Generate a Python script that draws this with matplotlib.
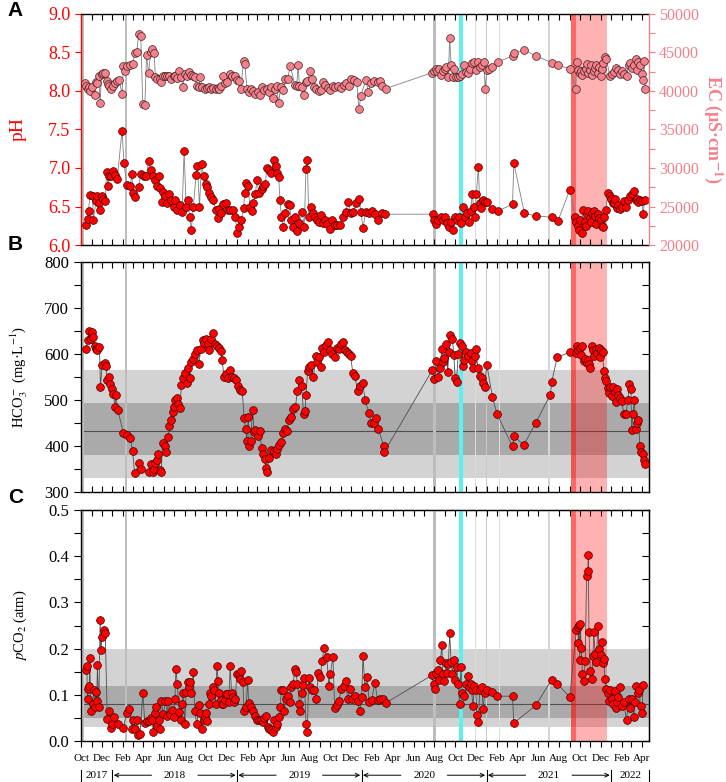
import numpy as np
import pandas as pd
import matplotlib
matplotlib.use("Agg")
import matplotlib.pyplot as plt
from matplotlib.transforms import blended_transform_factory

plt.rcParams['font.family'] = ['Liberation Serif', 'DejaVu Serif']
plt.rcParams['mathtext.fontset'] = 'stix'

# sampling day = days since 2017-10-01
START = pd.Timestamp('2017-10-01')
X_END = 1664

# ---- panel A : pH (red, left axis)
ph_day = [15, 19, 22, 26, 34, 36, 44, 48, 52, 56,
          60, 65, 71, 75, 79, 83, 89, 95, 101, 106,
          120, 126, 134, 144, 149, 153, 159, 169, 175, 185,
          191, 198, 204, 210, 218, 222, 228, 232, 237, 241,
          247, 253, 259, 265, 271, 276, 282, 290, 296, 302,
          308, 312, 318, 323, 329, 337, 341, 347, 353, 359,
          366, 370, 376, 382, 388, 394, 400, 405, 411, 417,
          425, 431, 437, 445, 452, 458, 464, 470, 476, 480,
          484, 489, 495, 501, 505, 511, 515, 521, 529, 534,
          540, 544, 550, 556, 564, 570, 575, 579, 583, 587,
          593, 599, 605, 611, 616, 622, 628, 634, 640, 648,
          654, 659, 663, 667, 673, 679, 685, 691, 697, 702,
          708, 714, 722, 730, 736, 743, 751, 759, 767, 775,
          783, 790, 798, 806, 814, 820, 826, 834, 844, 851,
          861, 869, 881, 890, 1031, 1035, 1041, 1047, 1055, 1060,
          1066, 1072, 1078, 1084, 1090, 1096, 1102, 1107, 1113, 1119,
          1125, 1131, 1137, 1141, 1146, 1150, 1154, 1158, 1164, 1168,
          1172, 1178, 1184, 1189, 1203, 1221, 1264, 1268, 1299, 1332,
          1379, 1397, 1432, 1447, 1451, 1455, 1459, 1463, 1467, 1471,
          1475, 1479, 1483, 1486, 1490, 1494, 1498, 1502, 1506, 1510,
          1514, 1518, 1522, 1526, 1529, 1533, 1537, 1543, 1549, 1553,
          1557, 1561, 1565, 1569, 1572, 1578, 1584, 1590, 1596, 1602,
          1608, 1613, 1619, 1625, 1629, 1633, 1637, 1643, 1647, 1651]
ph = [6.26, 6.34, 6.44, 6.65, 6.64, 6.32, 6.57, 6.63, 6.54, 6.45,
      6.64, 6.60, 6.57, 6.95, 6.77, 6.89, 6.90, 6.96, 6.91, 6.86,
      7.48, 7.06, 6.78, 6.77, 6.92, 6.67, 6.62, 6.75, 6.92, 6.90,
      6.89, 7.09, 6.97, 6.90, 6.84, 6.77, 6.90, 6.74, 6.56, 6.69,
      6.63, 6.55, 6.66, 6.58, 6.49, 6.58, 6.46, 6.52, 6.43, 7.22,
      6.49, 6.58, 6.37, 6.20, 6.49, 6.91, 7.03, 6.50, 7.05, 6.90,
      6.79, 6.75, 6.67, 6.62, 6.58, 6.45, 6.35, 6.47, 6.41, 6.53,
      6.54, 6.45, 6.46, 6.45, 6.36, 6.15, 6.24, 6.32, 6.48, 6.68,
      6.80, 6.76, 6.50, 6.44, 6.55, 6.66, 6.84, 6.68, 6.73, 6.77,
      6.79, 7.00, 6.98, 6.94, 7.10, 7.03, 6.93, 6.88, 6.58, 6.36,
      6.23, 6.41, 6.53, 6.52, 6.32, 6.24, 6.37, 6.18, 6.29, 6.43,
      6.24, 6.99, 7.10, 6.37, 6.50, 6.41, 6.37, 6.32, 6.30, 6.39,
      6.28, 6.32, 6.27, 6.21, 6.32, 6.26, 6.26, 6.26, 6.37, 6.43,
      6.56, 6.41, 6.43, 6.54, 6.60, 6.43, 6.22, 6.43, 6.41, 6.44,
      6.40, 6.32, 6.42, 6.40, 6.40, 6.32, 6.27, 6.32, 6.36, 6.32,
      6.36, 6.29, 6.24, 6.30, 6.20, 6.37, 6.32, 6.36, 6.29, 6.49,
      6.36, 6.41, 6.30, 6.44, 6.66, 6.50, 6.37, 6.66, 7.01, 6.54,
      6.48, 6.58, 6.56, 6.56, 6.47, 6.44, 6.53, 7.06, 6.41, 6.38,
      6.36, 6.31, 6.72, 6.36, 6.30, 6.25, 6.20, 6.33, 6.15, 6.45,
      6.30, 6.25, 6.40, 6.44, 6.35, 6.30, 6.42, 6.44, 6.38, 6.27,
      6.40, 6.35, 6.32, 6.25, 6.24, 6.36, 6.45, 6.68, 6.63, 6.60,
      6.55, 6.54, 6.60, 6.48, 6.52, 6.47, 6.50, 6.57, 6.49, 6.58,
      6.64, 6.66, 6.70, 6.58, 6.60, 6.56, 6.58, 6.57, 6.40, 6.59]

# ---- panel A : EC (pink, right axis)
ec_day = [11, 15, 19, 22, 26, 32, 40, 44, 48, 52,
          56, 60, 65, 71, 75, 79, 83, 89, 95, 101,
          106, 112, 120, 124, 130, 136, 144, 151, 157, 163,
          169, 175, 181, 187, 192, 198, 204, 208, 214, 218,
          224, 230, 235, 241, 247, 253, 259, 265, 271, 276,
          282, 288, 294, 298, 304, 310, 316, 321, 327, 333,
          339, 345, 349, 355, 362, 368, 374, 380, 388, 394,
          400, 405, 411, 417, 423, 429, 437, 443, 450, 456,
          462, 468, 476, 480, 486, 491, 497, 505, 511, 517,
          525, 531, 536, 544, 550, 556, 562, 568, 573, 579,
          585, 591, 599, 605, 613, 626, 632, 636, 640, 646,
          652, 658, 663, 671, 677, 683, 689, 697, 702, 710,
          716, 724, 730, 738, 745, 753, 761, 769, 777, 785,
          792, 800, 808, 814, 820, 834, 842, 849, 857, 869,
          875, 883, 892, 1029, 1033, 1039, 1043, 1049, 1055, 1060,
          1066, 1070, 1076, 1080, 1084, 1090, 1094, 1098, 1103, 1109,
          1115, 1121, 1127, 1133, 1139, 1145, 1150, 1156, 1162, 1168,
          1174, 1180, 1184, 1189, 1195, 1205, 1221, 1264, 1268, 1299,
          1332, 1379, 1397, 1432, 1449, 1453, 1457, 1461, 1465, 1469,
          1473, 1479, 1483, 1486, 1490, 1494, 1498, 1502, 1506, 1510,
          1514, 1518, 1522, 1526, 1529, 1535, 1539, 1549, 1555, 1561,
          1567, 1572, 1578, 1584, 1590, 1598, 1604, 1608, 1613, 1619,
          1625, 1629, 1633, 1637, 1643, 1647, 1649, 1653]
ec = [41000, 40600, 40200, 40500, 40000, 40500, 39500, 41200, 41000, 41900,
      38400, 42200, 42400, 42300, 41300, 40900, 40600, 40200, 40600, 41100,
      41300, 41400, 39600, 43200, 42600, 43200, 43400, 43500, 44900, 45000,
      47400, 47100, 38300, 38200, 44700, 42300, 45000, 45500, 44900, 41800,
      41500, 41600, 41200, 41900, 42000, 42000, 41900, 41600, 42000, 41900,
      41700, 42600, 41800, 40500, 42200, 41900, 42500, 42100, 41900, 41800,
      40600, 40500, 41800, 40500, 40200, 40400, 40500, 40200, 40400, 40200,
      40400, 40300, 40600, 41900, 41100, 41200, 42200, 42000, 41900, 41400,
      41300, 40200, 43900, 43500, 40300, 39900, 40300, 40000, 39600, 39900,
      39500, 40500, 40100, 40300, 39900, 40500, 39100, 40300, 40700, 38500,
      40500, 40100, 41600, 41500, 43300, 40800, 40600, 43400, 40600, 40500,
      39500, 41200, 41300, 42600, 41600, 40500, 40300, 40000, 40100, 41200,
      40800, 40400, 40100, 40600, 40500, 40700, 40400, 40800, 41000, 40600,
      41500, 41400, 41200, 37600, 39400, 41430, 39870, 41080, 41250, 41170,
      41250, 40650, 40300, 42380, 42640, 42900, 42550, 42810, 42030, 42640,
      42900, 43160, 41780, 46840, 43330, 41780, 42900, 41780, 41780, 41950,
      42210, 43420, 42470, 42300, 42900, 43680, 43770, 42730, 43770, 43160,
      43330, 43770, 40300, 42730, 42900, 43160, 43770, 44550, 44890, 45320,
      44550, 43680, 43330, 42900, 40220, 43770, 42730, 42300, 42640, 42120,
      42550, 42900, 43510, 42300, 42730, 43330, 42120, 42550, 42990, 43330,
      42380, 43160, 41950, 42900, 43590, 44370, 44200, 41950, 42210, 42470,
      42990, 42730, 42210, 42550, 42210, 41950, 43330, 43680, 42990, 43420,
      44200, 42730, 43770, 43330, 42210, 41430, 43940, 40220]

# ---- panel B : HCO3- (mg/L)
hco3_day = [15, 19, 24, 28, 32, 36, 40, 44, 48, 54,
            57, 62, 70, 73, 77, 81, 85, 91, 95, 99,
            102, 108, 124, 134, 144, 151, 157, 171, 177, 198,
            204, 210, 214, 218, 222, 226, 230, 235, 239, 245,
            249, 255, 259, 265, 269, 273, 276, 280, 284, 290,
            294, 298, 305, 309, 313, 319, 323, 327, 333, 339,
            345, 351, 357, 361, 366, 372, 376, 382, 386, 392,
            398, 403, 409, 413, 419, 425, 431, 437, 443, 448,
            454, 460, 466, 472, 478, 482, 486, 490, 493, 497,
            503, 507, 511, 517, 523, 529, 534, 538, 542, 546,
            550, 556, 564, 572, 575, 581, 587, 591, 597, 603,
            609, 615, 622, 628, 634, 640, 646, 652, 656, 659,
            664, 669, 675, 681, 687, 691, 697, 702, 706, 712,
            718, 724, 730, 736, 743, 749, 755, 761, 767, 773,
            779, 785, 790, 796, 802, 810, 818, 826, 832, 844,
            849, 859, 865, 871, 887, 889, 1029, 1035, 1041, 1047,
            1051, 1057, 1060, 1064, 1070, 1074, 1078, 1082, 1088, 1092,
            1096, 1100, 1105, 1111, 1115, 1119, 1123, 1129, 1135, 1141,
            1145, 1148, 1154, 1158, 1162, 1168, 1174, 1178, 1182, 1189,
            1205, 1219, 1264, 1268, 1297, 1332, 1375, 1379, 1395, 1432,
            1449, 1453, 1457, 1461, 1465, 1469, 1473, 1477, 1481, 1485,
            1488, 1492, 1496, 1500, 1504, 1508, 1512, 1516, 1520, 1524,
            1528, 1531, 1535, 1539, 1543, 1547, 1551, 1555, 1559, 1563,
            1567, 1570, 1574, 1578, 1584, 1590, 1596, 1602, 1606, 1611,
            1613, 1617, 1621, 1625, 1629, 1633, 1637, 1641, 1645, 1649, 1653]
hco3 = [612, 630, 651, 633, 647, 637, 618, 611, 608, 615,
        528, 577, 580, 575, 543, 550, 534, 524, 514, 485,
        510, 478, 428, 423, 418, 389, 341, 363, 349, 344,
        362, 344, 351, 363, 369, 382, 347, 343, 407, 401,
        388, 420, 443, 456, 473, 485, 501, 504, 492, 483,
        533, 549, 559, 536, 570, 549, 583, 589, 601, 609,
        578, 611, 630, 625, 633, 621, 608, 633, 646, 621,
        617, 614, 607, 588, 551, 556, 549, 565, 551, 547,
        543, 530, 522, 520, 462, 436, 412, 463, 399, 412,
        479, 430, 434, 421, 433, 395, 383, 372, 353, 344,
        375, 391, 389, 383, 393, 402, 409, 428, 436, 433,
        456, 463, 480, 485, 520, 543, 531, 470, 476, 512,
        563, 572, 576, 550, 596, 583, 593, 572, 614, 605,
        620, 627, 608, 601, 593, 614, 611, 622, 627, 608,
        605, 601, 596, 559, 553, 520, 530, 536, 499, 472,
        450, 449, 462, 437, 399, 388, 565, 546, 585, 551,
        569, 611, 583, 592, 621, 562, 605, 641, 633, 598,
        549, 540, 601, 625, 618, 575, 588, 604, 596, 602,
        585, 569, 596, 611, 570, 553, 547, 538, 528, 576,
        507, 469, 399, 422, 402, 450, 512, 540, 593, 604,
        602, 617, 609, 614, 598, 617, 585, 589, 580, 586,
        578, 570, 617, 608, 596, 611, 602, 614, 593, 609,
        605, 563, 549, 541, 527, 515, 528, 509, 528, 517,
        496, 524, 511, 505, 498, 470, 469, 501, 534, 524,
        434, 469, 499, 437, 450, 456, 401, 388, 383, 369, 360]

# ---- panel C : pCO2 (atm)
pco2_day = [15, 17, 19, 21, 24, 26, 28, 34, 38, 40,
            44, 46, 48, 52, 56, 58, 62, 67, 71, 77,
            83, 87, 91, 97, 108, 124, 134, 142, 149, 153,
            159, 163, 167, 173, 181, 187, 192, 198, 204, 208,
            212, 216, 220, 224, 228, 232, 235, 241, 247, 253,
            255, 261, 267, 271, 275, 278, 282, 288, 292, 296,
            300, 304, 308, 312, 316, 319, 323, 329, 333, 339,
            345, 349, 353, 359, 362, 366, 370, 374, 378, 382,
            386, 390, 394, 398, 402, 405, 409, 413, 417, 421,
            425, 429, 433, 437, 441, 445, 448, 452, 456, 462,
            466, 470, 474, 478, 484, 488, 491, 497, 503, 509,
            515, 521, 527, 532, 536, 542, 548, 552, 556, 562,
            566, 570, 573, 579, 583, 587, 591, 595, 601, 605,
            611, 616, 622, 626, 630, 634, 640, 642, 646, 650,
            654, 659, 663, 667, 671, 677, 683, 689, 695, 701,
            706, 712, 720, 726, 730, 738, 743, 749, 755, 763,
            769, 775, 781, 788, 794, 802, 810, 816, 822, 826,
            832, 838, 844, 851, 861, 869, 877, 885, 892, 1027,
            1033, 1037, 1041, 1045, 1049, 1053, 1057, 1060, 1064, 1068,
            1072, 1076, 1080, 1084, 1088, 1092, 1096, 1101, 1105, 1109,
            1113, 1117, 1123, 1129, 1133, 1137, 1141, 1144, 1148, 1152,
            1156, 1160, 1164, 1168, 1174, 1178, 1182, 1189, 1205, 1219,
            1264, 1268, 1332, 1379, 1395, 1432, 1451, 1455, 1457, 1459,
            1461, 1463, 1465, 1469, 1473, 1477, 1481, 1485, 1486, 1488,
            1492, 1496, 1500, 1502, 1506, 1510, 1514, 1518, 1522, 1526,
            1528, 1531, 1535, 1539, 1543, 1547, 1551, 1555, 1559, 1563,
            1567, 1570, 1574, 1578, 1584, 1590, 1598, 1604, 1608, 1613,
            1619, 1623, 1627, 1631, 1635, 1639, 1643, 1647]
pco2 = [0.153, 0.163, 0.090, 0.112, 0.120, 0.180, 0.066, 0.081, 0.110, 0.074,
        0.107, 0.087, 0.165, 0.074, 0.261, 0.197, 0.225, 0.240, 0.233, 0.048,
        0.066, 0.029, 0.037, 0.052, 0.037, 0.029, 0.061, 0.069, 0.025, 0.046,
        0.025, 0.046, 0.014, 0.016, 0.104, 0.039, 0.043, 0.043, 0.049, 0.046,
        0.019, 0.061, 0.074, 0.033, 0.046, 0.025, 0.087, 0.058, 0.087, 0.055,
        0.087, 0.058, 0.068, 0.052, 0.091, 0.156, 0.124, 0.062, 0.045, 0.081,
        0.104, 0.037, 0.107, 0.127, 0.116, 0.127, 0.103, 0.150, 0.064, 0.037,
        0.078, 0.061, 0.026, 0.046, 0.053, 0.061, 0.043, 0.081, 0.104, 0.097,
        0.118, 0.111, 0.081, 0.162, 0.129, 0.104, 0.088, 0.081, 0.081, 0.088,
        0.101, 0.101, 0.084, 0.162, 0.105, 0.095, 0.084, 0.090, 0.144, 0.144,
        0.134, 0.152, 0.127, 0.066, 0.074, 0.132, 0.082, 0.074, 0.064, 0.055,
        0.046, 0.046, 0.046, 0.042, 0.049, 0.055, 0.030, 0.026, 0.023, 0.020,
        0.046, 0.030, 0.037, 0.053, 0.074, 0.110, 0.110, 0.066, 0.090, 0.098,
        0.085, 0.116, 0.124, 0.156, 0.150, 0.124, 0.081, 0.064, 0.105, 0.121,
        0.137, 0.037, 0.020, 0.136, 0.116, 0.111, 0.110, 0.091, 0.147, 0.139,
        0.173, 0.201, 0.182, 0.120, 0.144, 0.182, 0.072, 0.078, 0.087, 0.113,
        0.120, 0.129, 0.090, 0.113, 0.092, 0.098, 0.087, 0.064, 0.095, 0.184,
        0.116, 0.139, 0.084, 0.088, 0.126, 0.088, 0.090, 0.091, 0.082, 0.142,
        0.124, 0.113, 0.147, 0.153, 0.133, 0.176, 0.208, 0.146, 0.130, 0.168,
        0.147, 0.166, 0.233, 0.171, 0.146, 0.176, 0.133, 0.160, 0.123, 0.081,
        0.160, 0.104, 0.098, 0.123, 0.140, 0.117, 0.123, 0.111, 0.075, 0.120,
        0.110, 0.056, 0.042, 0.110, 0.118, 0.069, 0.103, 0.110, 0.107, 0.097,
        0.097, 0.039, 0.077, 0.133, 0.124, 0.095, 0.241, 0.247, 0.212, 0.251,
        0.176, 0.254, 0.201, 0.146, 0.130, 0.173, 0.358, 0.368, 0.402, 0.236,
        0.152, 0.134, 0.185, 0.236, 0.189, 0.172, 0.250, 0.199, 0.186, 0.215,
        0.168, 0.178, 0.134, 0.113, 0.104, 0.087, 0.111, 0.091, 0.081, 0.108,
        0.072, 0.084, 0.095, 0.117, 0.075, 0.084, 0.045, 0.090, 0.072, 0.090,
        0.052, 0.085, 0.120, 0.103, 0.110, 0.075, 0.061, 0.121]

# statistics bands (outer range, inner range, middle line)
hco3_outer = (331, 566)
hco3_inner = (380, 494)
hco3_mid = 432
pco2_outer = (0.03, 0.20)
pco2_inner = (0.049, 0.12)
pco2_mid = 0.081

# event markers (day ranges)
gray_events = [(0, 8, '#bdbdbd'), (128, 134, '#bdbdbd'), (1030, 1039, '#bdbdbd'),
               (1153, 1156, '#dcdcdc'), (1185, 1189, '#c8c8c8'),
               (1223, 1227, '#dcdcdc'), (1369, 1373, '#d6d6d6')]
cyan_event = (1108, 1118)
red_dark = (1436, 1450)
red_light = (1450, 1541)

RED = '#ff0000'
PINK = '#f4808c'


def events(ax):
    for a, b, c in gray_events:
        ax.axvspan(a, b, color=c, lw=0, zorder=1)
    ax.axvspan(*cyan_event, color='#5df0f0', lw=0, zorder=1)
    ax.axvspan(*red_dark, color='red', alpha=0.6, lw=0, zorder=1.5)
    ax.axvspan(*red_light, color='red', alpha=0.3, lw=0, zorder=1.5)


month_dates = pd.date_range('2017-10-01', '2022-04-01', freq='MS')
month_days = [(d - START).days for d in month_dates]
month_labels = [d.strftime('%b') if i % 2 == 0 else '' for i, d in enumerate(month_dates)]


def xsetup(ax):
    ax.set_xlim(0, X_END)
    ax.set_xticks(month_days)
    for s in ax.spines.values():
        s.set_linewidth(1.0)


fig = plt.figure(figsize=(7.26, 7.82), dpi=100)
ax_a = fig.add_axes([0.1116, 0.6867, 0.7824, 0.2954])
ax_b = fig.add_axes([0.1116, 0.3708, 0.7824, 0.2941])
ax_c = fig.add_axes([0.1116, 0.0524, 0.7824, 0.2954])

# ---------------- A
events(ax_a)
xsetup(ax_a)
ax_a.tick_params(axis='x', direction='in', top=True, bottom=True,
                 labelbottom=False, length=4, width=0.8)
ax_a.plot(ph_day, ph, marker='o', ms=5.6, mfc=RED, mec='#400000', mew=0.5,
          color='#808080', lw=0.6, zorder=3)
ax_a.set_ylim(6, 9)
ax_a.set_yticks(np.arange(6, 9.01, 0.5))
ax_a.set_yticklabels(['%.1f' % v for v in np.arange(6, 9.01, 0.5)])
ax_a.tick_params(axis='y', direction='out', colors=RED, labelsize=13,
                 length=4, width=0.8)
ax_a.spines['left'].set_color(RED)
ax_a.spines['right'].set_visible(False)
ax_a.set_ylabel('pH', color=RED, fontsize=14, va='center')
ax_a.yaxis.set_label_coords(-0.111, 0.5)

ax_a2 = ax_a.twinx()
ax_a2.set_xlim(0, X_END)
ax_a2.plot(ec_day, ec, marker='o', ms=5.6, mfc=PINK, mec='#402020', mew=0.5,
           color='#808080', lw=0.6, zorder=3)
ax_a2.set_ylim(20000, 50000)
ax_a2.set_yticks(np.arange(20000, 50001, 5000))
ax_a2.set_yticks(np.arange(22500, 50000, 5000), minor=True)
ax_a2.tick_params(axis='y', which='both', direction='out', colors=PINK,
                  labelsize=11.5, length=4, width=0.8, pad=3)
for side in ['left', 'top', 'bottom']:
    ax_a2.spines[side].set_visible(False)
ax_a2.spines['right'].set_color(PINK)
ax_a2.spines['right'].set_linewidth(1.0)
ax_a2.set_ylabel('EC (µS·cm$^{\\mathbf{-1}}$)', color=PINK, fontsize=13,
                 fontweight='bold', rotation=270, va='center')
ax_a2.yaxis.set_label_coords(1.114, 0.5)

# ---------------- B
ax_b.axhspan(*hco3_outer, color='#d3d3d3', lw=0, zorder=0.5)
ax_b.axhspan(*hco3_inner, color='#aaaaaa', lw=0, zorder=0.6)
ax_b.axhline(hco3_mid, color='#505050', lw=0.8, zorder=0.7)
events(ax_b)
xsetup(ax_b)
ax_b.tick_params(axis='x', direction='in', top=True, bottom=True,
                 labelbottom=False, length=4, width=0.8)
ax_b.plot(hco3_day, hco3, marker='o', ms=5.6, mfc=RED, mec='#400000', mew=0.5,
          color='#505050', lw=0.6, zorder=3)
ax_b.set_ylim(300, 800)
ax_b.set_yticks(np.arange(300, 801, 100))
ax_b.set_yticks(np.arange(350, 800, 100), minor=True)
ax_b.tick_params(axis='y', which='both', direction='out', labelsize=12,
                 length=5, width=0.8)
sec_b = ax_b.secondary_yaxis('right')
sec_b.set_yticks(np.arange(300, 801, 50))
sec_b.tick_params(direction='in', labelright=False, length=5, width=0.8)
ax_b.set_ylabel('HCO$_3^-$ (mg·L$^{-1}$)', fontsize=10.5, va='center')
ax_b.yaxis.set_label_coords(-0.109, 0.5)

# ---------------- C
ax_c.axhspan(*pco2_outer, color='#d3d3d3', lw=0, zorder=0.5)
ax_c.axhspan(*pco2_inner, color='#aaaaaa', lw=0, zorder=0.6)
ax_c.axhline(pco2_mid, color='#505050', lw=0.8, zorder=0.7)
events(ax_c)
xsetup(ax_c)
ax_c.set_xticklabels(month_labels)
ax_c.tick_params(axis='x', direction='out', top=False, bottom=True,
                 labelsize=8, length=4, width=0.8, pad=5)
sec_c = ax_c.secondary_xaxis('top')
sec_c.set_xticks(month_days)
sec_c.tick_params(direction='in', labeltop=False, length=4, width=0.8)
ax_c.plot(pco2_day, pco2, marker='o', ms=5.6, mfc=RED, mec='#400000', mew=0.5,
          color='#505050', lw=0.6, zorder=3)
ax_c.set_ylim(0, 0.5)
ax_c.set_yticks(np.arange(0, 0.51, 0.1))
ax_c.set_yticklabels(['%.1f' % v for v in np.arange(0, 0.51, 0.1)])
ax_c.set_yticks(np.arange(0.05, 0.5, 0.1), minor=True)
ax_c.tick_params(axis='y', which='both', direction='out', labelsize=12,
                 length=5, width=0.8)
sec_c2 = ax_c.secondary_yaxis('right')
sec_c2.set_yticks(np.arange(0, 0.51, 0.05))
sec_c2.tick_params(direction='in', labelright=False, length=5, width=0.8)
ax_c.set_ylabel('$p$CO$_2$ (atm)', fontsize=10.5, va='center')
ax_c.yaxis.set_label_coords(-0.107, 0.5)

# year row under the month labels
trans = blended_transform_factory(ax_c.transData, ax_c.transAxes)
jan_days = [(pd.Timestamp('%d-01-01' % y) - START).days for y in range(2018, 2023)]
for b in [0] + jan_days + [X_END]:
    ax_c.plot([b, b], [-0.125, -0.172], color='black', lw=0.8,
              transform=trans, clip_on=False)
y_row = -0.148
ax_c.text(jan_days[0] / 2, y_row, '2017', transform=trans, ha='center',
          va='center', fontsize=8)
ax_c.text((jan_days[-1] + X_END) / 2, y_row, '2022', transform=trans,
          ha='center', va='center', fontsize=8)
for i, yr in enumerate(range(2018, 2022)):
    a, b = jan_days[i], jan_days[i + 1]
    mid = (a + b) / 2
    ax_c.text(mid, y_row, str(yr), transform=trans, ha='center', va='center',
              fontsize=8)
    for end, start in [(a, mid - 68), (b, mid + 68)]:
        ax_c.annotate('', xy=(end, y_row), xytext=(start, y_row),
                      xycoords=trans, textcoords=trans, annotation_clip=False,
                      arrowprops=dict(arrowstyle='->', lw=0.7, color='black',
                                      shrinkA=0, shrinkB=1,
                                      mutation_scale=7))

# panel letters
for lab, yy in [('A', 0.987), ('B', 0.687), ('C', 0.364)]:
    fig.text(0.021, yy, lab, fontfamily='Liberation Sans', fontweight='bold',
             fontsize=15, ha='center', va='center')

fig.savefig('out.png', dpi=100)
